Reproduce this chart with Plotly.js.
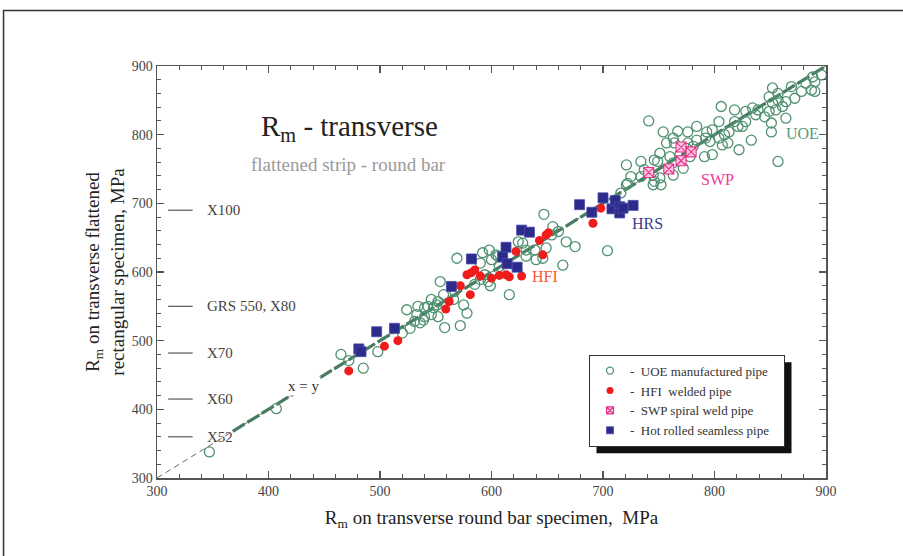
<!DOCTYPE html>
<html>
<head>
<meta charset="utf-8">
<script src="https://cdn.plot.ly/plotly-3.0.1.min.js"></script>
<style>html,body{margin:0;padding:0;background:#fff;}#chart{width:903px;height:556px;}</style>
</head>
<body>
<div id="chart"></div>
<script>
// ---- data ----
const uoeX = [347,407,465,472,485,498,520,527,524,534,533,536,539,543,546,551,552,558,572,575,578,540,531,540,548,554,557,552,546,566,567,569,585,590,594,597,598,592,590,600,607,604,616,624,628,631,639,646,649,640,599,606,631,
  647,655,667,675,664,704,660,654,
  721,725,721,716,722,734,734,737,741,745,746,752,745,746,751,749,751,754,757,760,763,763,763,764,767,769,772,775,776,776,778,781,784,784,791,792,793,796,798,798,804,804,806,809,812,813,807,818,818,821,822,825,828,828,833,834,837,839,845,849,851,851,852,855,857,861,864,864,852,857,869,872,878,882,887,890,890,888,896,849,857];
const uoeY = [338,401,480,471,460,484,511,518,545,550,538,526,530,550,538,552,535,519,522,552,540,535,528,548,548,586,567,557,560,560,572,620,582,589,596,586,632,628,613,618,608,625,567,644,642,632,632,620,635,618,580,623,623,
  684,666,644,637,610,631,659,654,
  756,739,727,715,729,761,739,749,820,727,732,727,741,763,773,761,737,804,788,768,795,759,741,788,805,771,751,780,804,788,768,783,812,792,768,795,804,790,807,771,819,795,841,800,788,804,785,836,819,812,778,812,819,834,792,839,829,836,826,834,817,804,846,836,761,841,848,824,868,860,870,853,863,875,865,877,863,884,887,855,850];

const hfiX = [472,504,516,559,562,572,581,578,582,585,590,600,607,613,616,627,622,643,646,649,651,691,698];
const hfiY = [456,492,500,546,557,580,567,596,599,603,594,591,595,596,593,594,630,646,625,654,657,671,693];

const swpX = [741,759,770,770,779];
const swpY = [745,750,762,782,775];

const hrsX = [481,483,497,513,564,582,613,610,614,623,627,634,679,690,700,708,711,715,715,718,727];
const hrsY = [488,484,513,518,579,619,636,622,612,607,661,658,698,687,708,692,704,695,686,693,697];

const seriesNames = ['-  UOE manufactured pipe','-  HFI  welded pipe','-  SWP spiral weld pipe','-  Hot rolled seamless pipe\u00a0\u00a0\u00a0'];

const gradeNames = ['X100','GRS 550, X80','X70','X60','X52'];
const gradeValues = [690,550,482,415,360];

const lineX = [300,900];
const fitX = [368,900];

const serif = 'Liberation Serif, Times New Roman, serif';

const uoeMarker = {symbol:'circle-open', color:'#4f9170', line:{width:1.3, color:'#4f9170'}};
const hfiMarker = {symbol:'circle', color:'#f01c1c'};
const swpMarker = {symbol:'square-x', color:'#f9c8e0', line:{width:1.1, color:'#e8308a'}};
const hrsMarker = {symbol:'square', color:'#2b2b8c', line:{width:0.8, color:'#4a4aa8'}};
const withSize = (m, s) => Object.assign({}, m, {size:s});

const traces = [
  {x: fitX, y: fitX, mode:'lines', line:{color:'#3f7f5c', width:3.2, dash:'14px,3px'}, showlegend:false, hoverinfo:'skip'},
  {x: lineX, y: lineX, mode:'lines', line:{color:'#6a6a6a', width:1, dash:'6px,4px'}, showlegend:false, hoverinfo:'skip'},
  {x: uoeX, y: uoeY, mode:'markers', showlegend:false, marker: withSize(uoeMarker, 10)},
  {x: hfiX, y: hfiY, mode:'markers', showlegend:false, marker: withSize(hfiMarker, 9)},
  {x: hrsX, y: hrsY, mode:'markers', showlegend:false, marker: withSize(hrsMarker, 10)},
  {x: swpX, y: swpY, mode:'markers', showlegend:false, marker: withSize(swpMarker, 10)},
  // legend entries (small symbols as in the reference key)
  {x:[null], y:[null], mode:'markers', name: seriesNames[0], marker: withSize(uoeMarker, 7)},
  {x:[null], y:[null], mode:'markers', name: seriesNames[1], marker: withSize(hfiMarker, 7)},
  {x:[null], y:[null], mode:'markers', name: seriesNames[2], marker: withSize(swpMarker, 7)},
  {x:[null], y:[null], mode:'markers', name: seriesNames[3], marker: withSize(hrsMarker, 7)}
];

const shapes = [];
// outer frame
shapes.push({type:'rect', xref:'paper', yref:'paper', x0:-0.2294, x1:1.3, y0:-0.4, y1:1.1345, line:{color:'#333', width:1.5}, layer:'below'});
// legend shadow (repositioned after the legend is measured)
shapes.push({type:'rect', xref:'paper', yref:'paper', x0:0.6562, x1:0.9492, y0:0.0764, y1:0.2824, fillcolor:'#111', line:{width:0}, layer:'above'});
// grade marks
gradeValues.forEach(v => shapes.push({type:'line', xref:'x', yref:'y', x0:310, x1:332, y0:v, y1:v, line:{color:'#555', width:1.2}}));

const annotations = [
  {xref:'paper', yref:'paper', x:(349-157)/669, y:1-(128-66)/412.5, xanchor:'center', yanchor:'middle', text:'R<sub>m</sub> - transverse', showarrow:false,
   font:{family:serif, size:29, color:'#222'}},
  {xref:'paper', yref:'paper', x:(348-157)/669, y:1-(165-66)/412.5, xanchor:'center', yanchor:'middle', text:'flattened strip - round bar', showarrow:false,
   font:{family:serif, size:19, color:'#9a9a9a'}},
  {x:431, y:434, text:'x = y', showarrow:false, bgcolor:'#fff', font:{family:serif, size:15, color:'#333'}},
  {x:648, y:594, text:'HFI', showarrow:false, font:{family:serif, size:16, color:'#ff5533'}},
  {x:740, y:670, text:'HRS', showarrow:false, font:{family:serif, size:16, color:'#3b3b90'}},
  {x:803, y:734, text:'SWP', showarrow:false, font:{family:serif, size:16, color:'#ee3a96'}},
  {x:879, y:802, text:'UOE', showarrow:false, font:{family:serif, size:16, color:'#5a9a78'}}
];
gradeNames.forEach((n,i) => annotations.push({x:343, y:gradeValues[i], text:n, showarrow:false, xanchor:'left',
  font:{family:serif, size:15, color:'#444'}}));

const axisCommon = {
  range:[300,900], tick0:300, dtick:100, ticks:'inside', ticklen:7, tickwidth:1.2, tickcolor:'#555',
  showline:true, linecolor:'#555', linewidth:1.5, mirror:'ticks', showgrid:false, zeroline:false,
  minor:{dtick:20, ticks:'inside', ticklen:4, tickwidth:1, tickcolor:'#555', showgrid:false},
  tickfont:{family:serif, size:14, color:'#444'}
};

const layout = {
  width:903, height:556,
  margin:{l:157, r:77, t:66, b:77.5},
  paper_bgcolor:'#fff', plot_bgcolor:'#fff',
  xaxis: Object.assign({}, axisCommon, {title:{text:'R<sub>m</sub> on transverse round bar specimen,  MPa', font:{family:serif, size:19, color:'#222'}, standoff:12}}),
  yaxis: Object.assign({}, axisCommon, {title:{text:'R<sub>m</sub> on transverse flattened<br>rectangular specimen, MPa', font:{family:serif, size:19, color:'#222'}, standoff:2}}),
  showlegend:true,
  legend:{x:(589-157)/669, xanchor:'left', y:1-(355-66)/412.5, yanchor:'top', bgcolor:'#fff', bordercolor:'#333', borderwidth:1,
    font:{family:serif, size:13, color:'#333'}, tracegroupgap:0},
  shapes: shapes,
  annotations: annotations
};

Plotly.newPlot('chart', traces, layout, {displayModeBar:false, staticPlot:true}).then(gd => {
  const bg = gd.querySelector('.legend .bg');
  if (!bg) return;
  const r = bg.getBoundingClientRect();
  const c = gd.getBoundingClientRect();
  const sz = gd._fullLayout._size;
  const off = 7;
  const px = v => (v - sz.l) / sz.w;
  const py = v => 1 - (v - sz.t) / sz.h;
  return Plotly.relayout(gd, {
    'shapes[1].x0': px(r.left - c.left + off),
    'shapes[1].x1': px(r.right - c.left + off),
    'shapes[1].y0': py(r.bottom - c.top + off),
    'shapes[1].y1': py(r.top - c.top + off)
  });
});
</script>
</body>
</html>
